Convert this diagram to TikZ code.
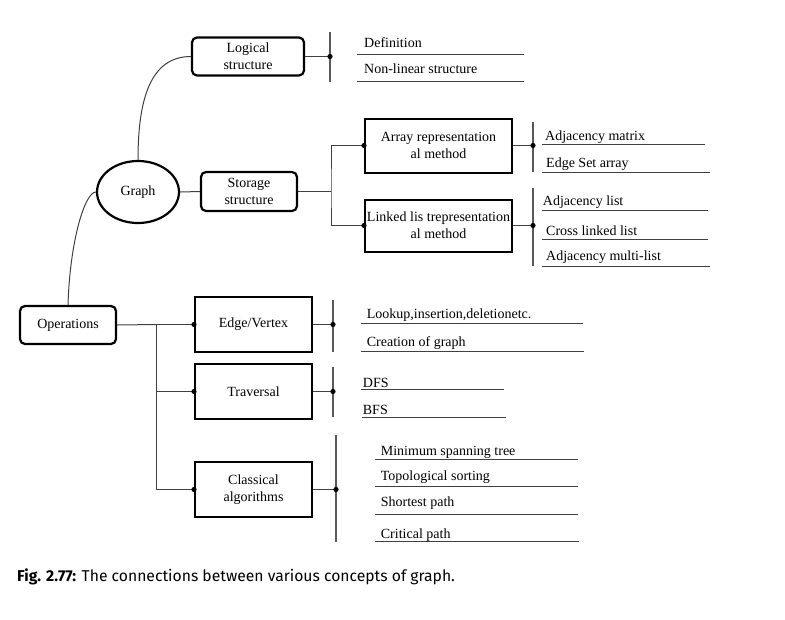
\documentclass[tikz,border=0pt]{standalone}
\usepackage{fontspec}
\setmainfont{Liberation Serif}
\newfontfamily\capfont{Fira Sans}
\usetikzlibrary{positioning,shapes.geometric,calc}
% Underlined leaf text: name, text x, baseline, line from, line to, line y, text
\newcommand*{\leaf}[7]{%
  \node[leaf] (#1) at (#2,#3) {#7};
  \draw[uline] (#4,#6) -- (#5,#6);}

\begin{document}
\begin{tikzpicture}[x=1pt,y=-1pt,font=\fontsize{14}{17}\selectfont,
  rbox/.style={draw,line width=2.2pt,rounded corners=5pt,align=center,inner sep=0pt},
  sbox/.style={draw,line width=2pt,align=center,inner sep=0pt},
  link/.style={draw=black!75,line width=1pt},
  bar/.style={draw=black!65,line width=1.1pt},
  uline/.style={draw=black!75,line width=1pt},
  leaf/.style={anchor=base west,inner sep=0pt}]
\useasboundingbox (0,0) rectangle (785,619);
% Root of the map
\node [draw,ellipse,line width=2.2pt,minimum width=82pt,minimum height=62pt] (graph) at (138,192) {Graph};
% Second level, rounded boxes
\node [rbox,minimum width=112pt,minimum height=38pt] (logic) at (248,56.5) {Logical\\structure};
\node [rbox,minimum width=96pt,minimum height=39pt] (store) at (249,191.5) {Storage\\structure};
\node [rbox,minimum width=96pt,minimum height=38pt] (oper) at (68,325) {Operations};
% Storage methods
\node [sbox,minimum width=147pt,minimum height=54pt] (array) at (438.5,145.5) {Array representation\\al method};
\node [sbox,minimum width=147pt,minimum height=52pt] (linked) at (438.5,225.5) {Linked lis trepresentation\\al method};
% Kinds of operations
\node [sbox,minimum width=117pt,minimum height=55pt] (edge) at (253.5,324.5) {Edge/Vertex};
\node [sbox,minimum width=117pt,minimum height=55pt] (trav) at (253.5,391.5) {Traversal};
\node [sbox,minimum width=117pt,minimum height=55pt] (algo) at (253.5,489.5) {Classical\\algorithms};
% Curved links out of the root
\draw [link] (graph.north) .. controls (138,100) and (150,56.5) .. (logic.west);
\draw [link] (graph.west) .. controls (85,192) and (70,240) .. (oper.north);
\draw [link] (graph.east) -- (store.west);
% Storage fork
\coordinate (sj) at (331,191.5);
\draw [link] (store.east) -- (sj);
\draw [link] (array.west) -| (sj) |- (linked.west);
\fill (array.west) circle (2.6pt) (linked.west) circle (2.6pt);
% Operations fork
\coordinate (oj) at (156,324.5);
\draw [link] (oper.east) -- (oj);
\draw [link] (edge.west) -| (oj) |- (algo.west);
\draw [link] (oj |- trav.west) -- (trav.west);
\fill (edge.west) circle (2.6pt) (trav.west) circle (2.6pt) (algo.west) circle (2.6pt);
% Bars in front of the leaves
\coordinate (lb) at (330,56.5);
\coordinate (ab) at (533,145.5);
\coordinate (kb) at (533,225.5);
\coordinate (eb) at (333,324.5);
\coordinate (tb) at (333,391.5);
\coordinate (cb) at (336,489.5);
\draw [link] (logic.east) -- (lb);
\draw [link] (array.east) -- (ab);
\draw [link] (linked.east) -- (kb);
\draw [link] (edge.east) -- (eb);
\draw [link] (trav.east) -- (tb);
\draw [link] (algo.east) -- (cb);
\draw [bar] (330,32) -- (330,82);
\draw [bar] (533,122) -- (533,172);
\draw [bar] (533,188) -- (533,266);
\draw [bar] (333,300) -- (333,352);
\draw [bar] (333,367) -- (333,417);
\draw [bar] (336,435) -- (336,542);
\foreach \b in {lb,ab,kb,eb,tb,cb}
  \fill (\b) circle (2.6pt);
% Leaves
\leaf{defn}{364}{47.3}{357}{524}{54}{Definition}
\leaf{nonlin}{364}{73.3}{357}{524}{81.7}{Non-linear structure}
\leaf{adjmat}{545}{140}{542}{705}{144.3}{Adjacency matrix}
\leaf{edgeset}{546}{167.7}{542}{710}{172.3}{Edge Set array}
\leaf{adjlist}{542.7}{205.7}{542}{708}{210.7}{Adjacency list}
\leaf{cross}{546}{235}{542}{708}{239}{Cross linked list}
\leaf{multi}{546}{260.7}{542}{710}{266.7}{Adjacency multi-list}
\leaf{lookup}{366.7}{318.3}{361}{583}{323.3}{Lookup,insertion,deletionetc.}
\leaf{create}{366.7}{346}{361}{584}{351}{Creation of graph}
\leaf{dfs}{362.7}{387.3}{361}{504}{389.3}{DFS}
\leaf{bfs}{362.7}{414.3}{362}{505.6}{417.3}{BFS}
\leaf{mst}{380.7}{455}{375}{578}{459}{Minimum spanning tree}
\leaf{topo}{380.7}{480}{375}{578}{486}{Topological sorting}
\leaf{short}{380.7}{506.7}{375}{578}{514}{Shortest path}
\leaf{crit}{380.7}{538.3}{375}{579}{541.7}{Critical path}
% Caption
\node [anchor=base west,inner sep=0pt,font=\capfont\fontsize{15.7}{18}\selectfont] (caption) at (17,581)
  {\textbf{Fig. 2.77:} The connections between various concepts of graph.};
\end{tikzpicture}
\end{document}
